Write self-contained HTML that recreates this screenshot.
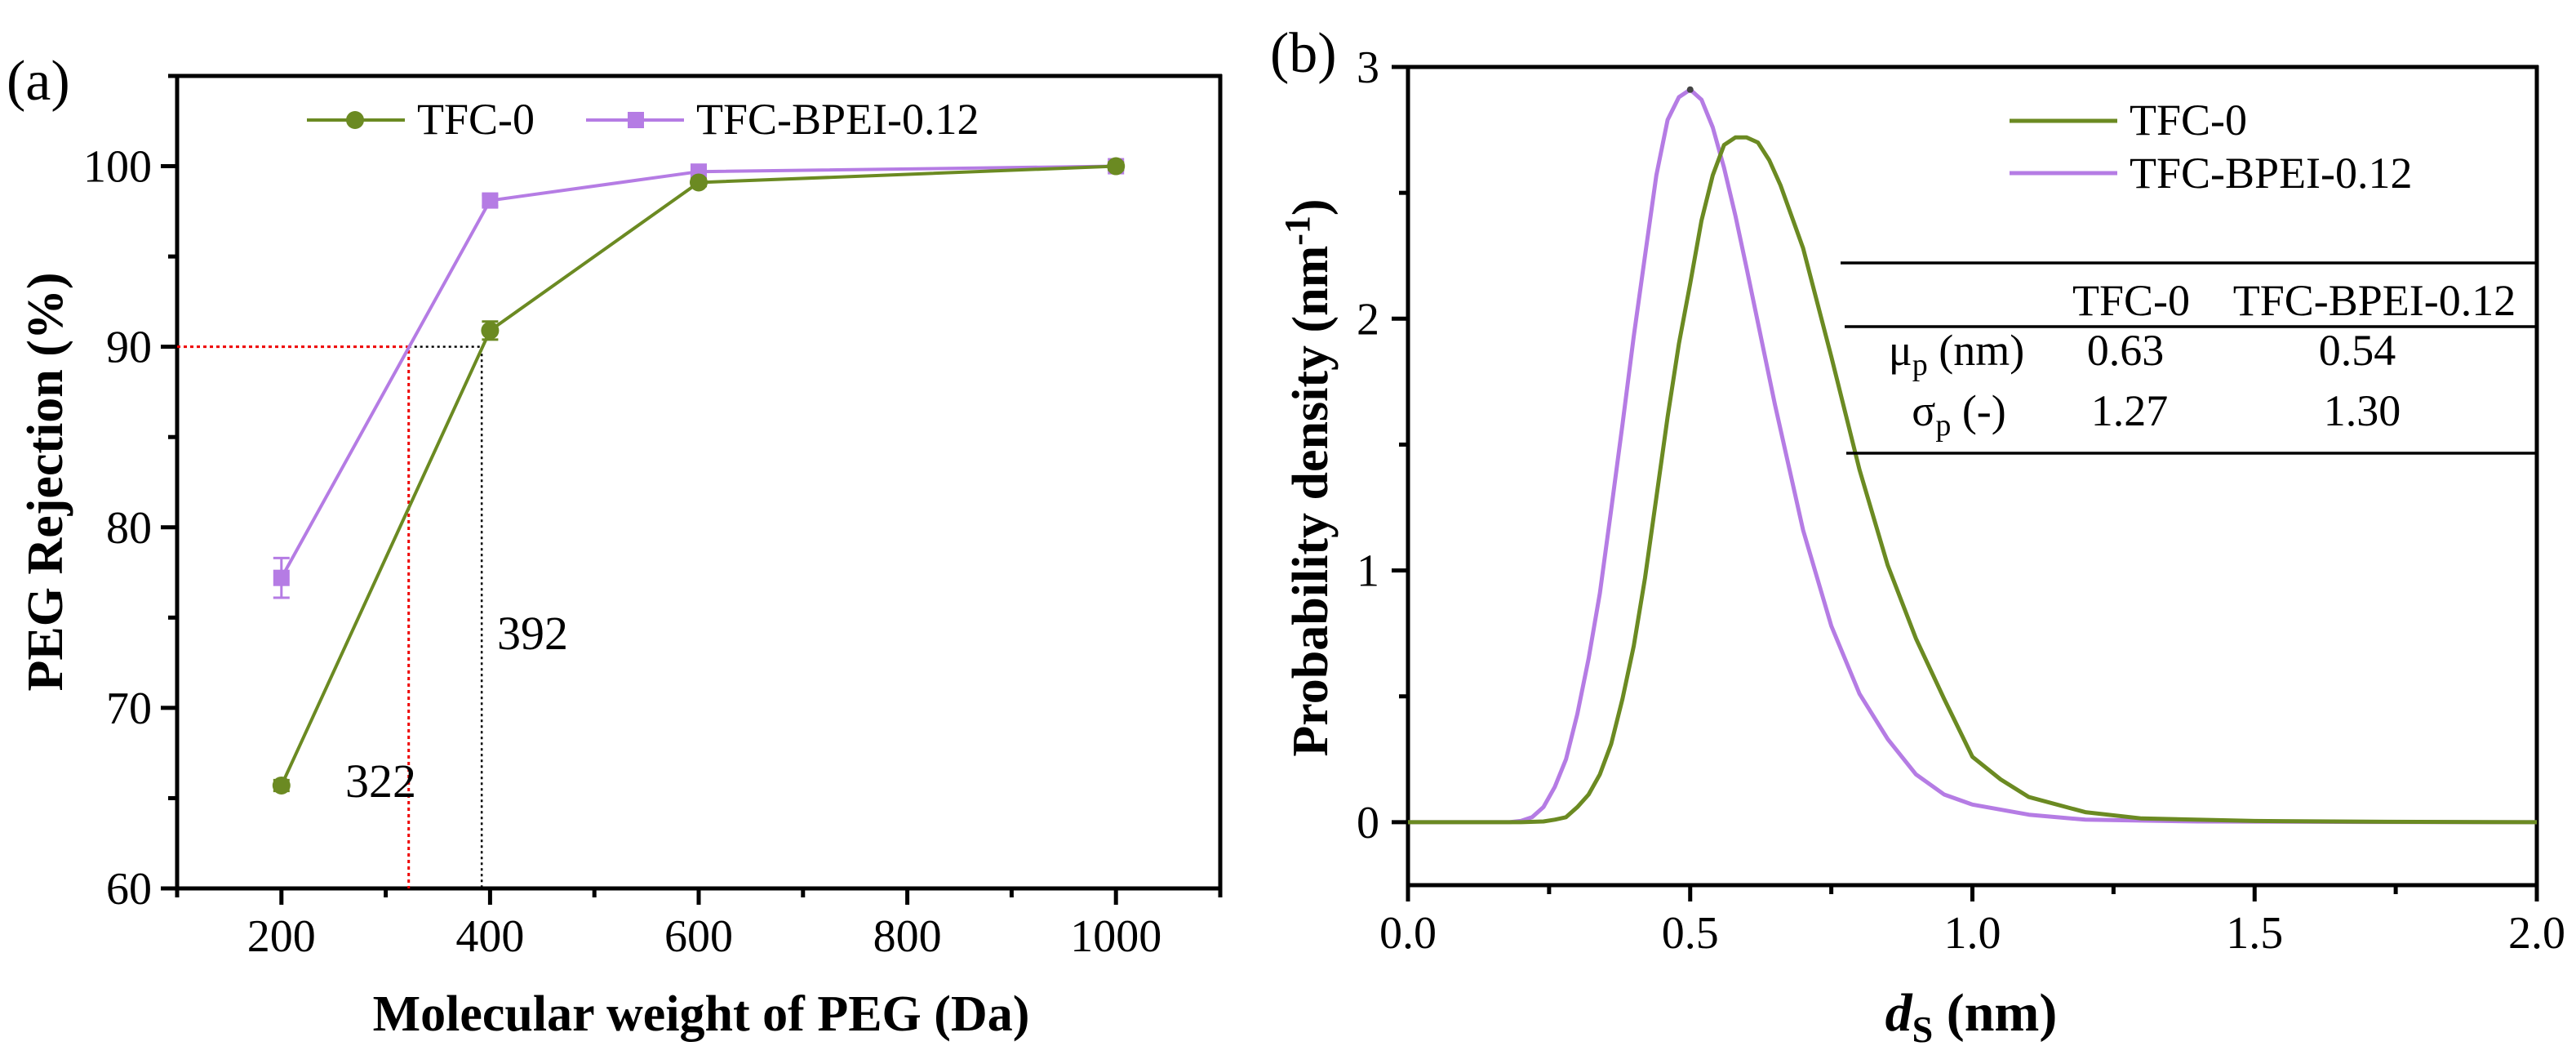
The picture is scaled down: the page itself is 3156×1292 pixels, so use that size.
<!DOCTYPE html>
<html><head><meta charset="utf-8">
<style>
html,body{margin:0;padding:0;background:#fff;}
svg{display:block;}
svg text{font-family:"Liberation Serif","Times New Roman",Times,serif;}
</style></head>
<body>
<svg id="fig" width="3156" height="1292" viewBox="0 0 3156 1292" xmlns="http://www.w3.org/2000/svg">
<g stroke="#000" stroke-width="5" fill="none">
<line x1="215" y1="93" x2="1497" y2="93"/>
<line x1="1495" y1="91" x2="1495" y2="1090"/>
<line x1="215" y1="1088" x2="1497" y2="1088"/>
<line x1="217" y1="91" x2="217" y2="1090"/>
</g>
<g stroke="#000" stroke-width="5" fill="none">
<line x1="1723" y1="82" x2="3110" y2="82"/>
<line x1="3108" y1="80" x2="3108" y2="1086"/>
<line x1="1723" y1="1084" x2="3110" y2="1084"/>
<line x1="1725" y1="80" x2="1725" y2="1086"/>
</g>
</svg>
<script>
// ---------- Panel (a) data ----------
const aCategories = [200, 400, 600, 1000];
const aTfc0 = [65.7, 90.9, 99.1, 100.0];
const aTfc0Err = [0.3, 0.5, 0.2, 0.2];
const aBpei = [77.2, 98.1, 99.7, 100.0];
const aBpeiErr = [1.1, 0.3, 0.2, 0.2];
const aXTicks = [200, 400, 600, 800, 1000];
const aYTicks = [60, 70, 80, 90, 100];
const aCutoffs = [322, 392];
// ---------- Panel (b) data ----------
const bTfc0X = [0,0.1,0.2,0.24,0.26,0.28,0.30,0.32,0.34,0.36,0.38,0.40,0.42,0.44,0.46,0.48,0.50,0.52,0.54,0.56,0.58,0.60,0.62,0.64,0.66,0.70,0.75,0.80,0.85,0.90,0.95,1.00,1.05,1.10,1.20,1.30,1.50,1.70,2.00];
const bTfc0Y = [0,0,0,0.003,0.01,0.02,0.06,0.11,0.19,0.31,0.49,0.70,0.97,1.29,1.61,1.90,2.14,2.39,2.57,2.69,2.72,2.72,2.70,2.63,2.53,2.28,1.85,1.40,1.02,0.73,0.49,0.26,0.17,0.10,0.04,0.015,0.005,0.002,0];
const bBpeiX = [0,0.1,0.18,0.20,0.22,0.24,0.26,0.28,0.30,0.32,0.34,0.36,0.38,0.40,0.42,0.44,0.46,0.48,0.50,0.52,0.54,0.56,0.58,0.60,0.65,0.70,0.75,0.80,0.85,0.90,0.95,1.00,1.10,1.20,1.40,1.70,2.00];
const bBpeiY = [0,0,0,0.005,0.02,0.06,0.14,0.25,0.43,0.65,0.91,1.24,1.58,1.93,2.25,2.57,2.79,2.88,2.91,2.87,2.76,2.60,2.41,2.20,1.66,1.16,0.78,0.51,0.33,0.19,0.11,0.07,0.03,0.01,0.003,0.001,0];
const bXTicks = [0.0, 0.5, 1.0, 1.5, 2.0];
const bYTicks = [0, 1, 2, 3];

const NS = "http://www.w3.org/2000/svg";
const svg = document.getElementById('fig');
const GREEN = "#6b8a22", PURPLE = "#b57ce4";
function el(tag, attrs, parent) {
  const e = document.createElementNS(NS, tag);
  for (const k in attrs) e.setAttribute(k, attrs[k]);
  (parent || svg).appendChild(e);
  return e;
}
function txt(str, x, y, size, anchor, weight, parent) {
  const t = el('text', {x: x, y: y, 'font-size': size, 'text-anchor': anchor || 'start', 'font-weight': weight || 'normal', fill: '#000'}, parent);
  t.textContent = str;
  return t;
}

// ================= Panel A =================
const A = {l:217, r:1495, t:93, b:1088, x0:100, x1:1100, y0:60, y1:105};
const ax = v => A.l + (v - A.x0) / (A.x1 - A.x0) * (A.r - A.l);
const ay = v => A.b - (v - A.y0) / (A.y1 - A.y0) * (A.b - A.t);
const gA = el('g', {});



for (let v = A.x0; v <= A.x1; v += 100) {
  const major = (v % 200 === 0);
  const tk = el('line', {x1:ax(v), x2:ax(v), y1:A.b, y2:A.b + (major ? 20 : 11), stroke:'#000', 'stroke-width':5}, gA);
  
  
}
aXTicks.forEach(v => {
  const t = txt(String(v), ax(v), 1165, 56, 'middle', 'normal', gA);
  
  
});
for (let v = A.y0; v <= A.y1; v += 5) {
  const major = (v % 10 === 0);
  const tk = el('line', {x1:A.l, x2:A.l - (major ? 20 : 11), y1:ay(v), y2:ay(v), stroke:'#000', 'stroke-width':5}, gA);
  
  
}
aYTicks.forEach(v => {
  const t = txt(String(v), 186, ay(v) + 19, 56, 'end', 'normal', gA);
  
  
});
const xtA = txt('Molecular weight of PEG (Da)', 859, 1262, 62, 'middle', 'bold', gA);


const ytA = txt('PEG Rejection (%)', 0, 0, 62, 'middle', 'bold', gA);
ytA.setAttribute('transform', 'translate(76,590) rotate(-90)');


const labA = txt('(a)', 8, 122, 70, 'start', 'normal', gA);



const red = el('path', {d:`M${A.l},${ay(90)} H${ax(aCutoffs[0])} V${A.b}`, fill:'none', stroke:'#e00', 'stroke-width':3, 'stroke-dasharray':'4,4'}, gA);


const blk = el('path', {d:`M${ax(aCutoffs[0])},${ay(90)} H${ax(aCutoffs[1])} V${A.b}`, fill:'none', stroke:'#000', 'stroke-width':2.5, 'stroke-dasharray':'3,4'}, gA);


const c1 = txt(String(aCutoffs[0]), 423, 976, 58, 'start', 'normal', gA);


const c2 = txt(String(aCutoffs[1]), 609, 795, 58, 'start', 'normal', gA);



function seriesA(vals, errs, color, marker, name) {
  const g = el('g', {}, gA);
  
  
  const pts = aCategories.map((c, i) => `${ax(c)},${ay(vals[i])}`).join(' ');
  const ln = el('polyline', {points: pts, fill:'none', stroke:color, 'stroke-width':4}, g);
  
  
  aCategories.forEach((c, i) => {
    const x = ax(c), yT = ay(vals[i] + errs[i]), yB = ay(vals[i] - errs[i]);
    const eb = el('path', {d:`M${x},${yT} V${yB} M${x-10},${yT} H${x+10} M${x-10},${yB} H${x+10}`, stroke:color, 'stroke-width':3, fill:'none'}, g);
    
    
    let m;
    if (marker === 'circle') m = el('circle', {cx:x, cy:ay(vals[i]), r:11, fill:color}, g);
    else m = el('rect', {x:x-10, y:ay(vals[i])-10, width:20, height:20, fill:color}, g);
    
    
  });
}
seriesA(aBpei, aBpeiErr, PURPLE, 'square', 'series-tfc-bpei-a');
seriesA(aTfc0, aTfc0Err, GREEN, 'circle', 'series-tfc0-a');

const lgA = el('g', {}, gA);


const le1 = el('g', {}, lgA);


el('line', {x1:376, x2:496, y1:147, y2:147, stroke:GREEN, 'stroke-width':4}, le1);
el('circle', {cx:435, cy:147, r:11, fill:GREEN}, le1);
txt('TFC-0', 511, 164, 54, 'start', 'normal', le1);
const le2 = el('g', {}, lgA);


el('line', {x1:718, x2:838, y1:147, y2:147, stroke:PURPLE, 'stroke-width':4}, le2);
el('rect', {x:769, y:137, width:20, height:20, fill:PURPLE}, le2);
txt('TFC-BPEI-0.12', 853, 164, 54, 'start', 'normal', le2);

// ================= Panel B =================
const B = {l:1725, r:3108, t:82, b:1084, x0:0, x1:2, y0:-0.25, y1:3};
const bx = v => B.l + (v - B.x0) / (B.x1 - B.x0) * (B.r - B.l);
const by = v => B.b - (v - B.y0) / (B.y1 - B.y0) * (B.b - B.t);
const gB = el('g', {});



for (let i = 0; i <= 8; i++) {
  const v = i * 0.25, major = (i % 2 === 0);
  const tk = el('line', {x1:bx(v), x2:bx(v), y1:B.b, y2:B.b + (major ? 20 : 11), stroke:'#000', 'stroke-width':5}, gB);
  
  
}
bXTicks.forEach(v => {
  const t = txt(v.toFixed(1), bx(v), 1161, 56, 'middle', 'normal', gB);
  
  
});
for (let i = 0; i <= 6; i++) {
  const v = i * 0.5, major = (i % 2 === 0);
  const tk = el('line', {x1:B.l, x2:B.l - (major ? 20 : 11), y1:by(v), y2:by(v), stroke:'#000', 'stroke-width':5}, gB);
  
  
}
bYTicks.forEach(v => {
  const t = txt(String(v), 1690, by(v) + 19, 56, 'end', 'normal', gB);
  
  
});
const labB = txt('(b)', 1556, 88, 70, 'start', 'normal', gB);



const xtB = el('text', {x:2415, y:1262, 'font-size':66, 'text-anchor':'middle', 'font-weight':'bold'}, gB);


xtB.innerHTML = '<tspan font-style="italic">d</tspan><tspan font-size="46" dy="14">S</tspan><tspan dy="-14"> (nm)</tspan>';
const ytB = el('text', {'font-size':62, 'text-anchor':'middle', 'font-weight':'bold', transform:'translate(1626,585) rotate(-90)'}, gB);


ytB.innerHTML = 'Probability density (nm<tspan font-size="44" dy="-22">-1</tspan><tspan dy="22">)</tspan>';

function curve(xs, ys, color, name) {
  const d = xs.map((x, i) => (i ? 'L' : 'M') + bx(x).toFixed(1) + ',' + by(ys[i]).toFixed(1)).join(' ');
  const p = el('path', {d: d, fill:'none', stroke:color, 'stroke-width':5, 'stroke-linejoin':'round'}, gB);
  
  
}
curve(bBpeiX, bBpeiY, PURPLE, 'curve-tfc-bpei');
curve(bTfc0X, bTfc0Y, GREEN, 'curve-tfc0');
const pk = bBpeiY.indexOf(Math.max(...bBpeiY));
const dot = el('circle', {cx:bx(bBpeiX[pk]), cy:by(bBpeiY[pk]), r:4, fill:'#444'}, gB);



const lgB = el('g', {}, gB);


const lb1 = el('g', {}, lgB);


el('line', {x1:2462, x2:2594, y1:148, y2:148, stroke:GREEN, 'stroke-width':5}, lb1);
txt('TFC-0', 2609, 165, 54, 'start', 'normal', lb1);
const lb2 = el('g', {}, lgB);


el('line', {x1:2462, x2:2594, y1:212, y2:212, stroke:PURPLE, 'stroke-width':5}, lb2);
txt('TFC-BPEI-0.12', 2609, 230, 54, 'start', 'normal', lb2);

const tb = el('g', {}, gB);


[[2255,322],[2260,400],[2262,555]].forEach(r => {
  const l = el('line', {x1:r[0], x2:B.r, y1:r[1], y2:r[1], stroke:'#000', 'stroke-width':3.5}, tb);
  
  
});
const h1 = txt('TFC-0', 2611, 386, 54, 'middle', 'normal', tb);


const h2 = txt('TFC-BPEI-0.12', 2909, 386, 54, 'middle', 'normal', tb);


const r1 = el('text', {x:2397, y:447, 'font-size':54, 'text-anchor':'middle'}, tb);


r1.innerHTML = 'μ<tspan font-size="38" dy="12">p</tspan><tspan dy="-12"> (nm)</tspan>';
const r2 = el('text', {x:2400, y:521, 'font-size':54, 'text-anchor':'middle'}, tb);


r2.innerHTML = 'σ<tspan font-size="38" dy="12">p</tspan><tspan dy="-12"> (-)</tspan>';
[['0.63',2604,447],['0.54',2888,447],['1.27',2609,521],['1.30',2894,521]].forEach(c => {
  const t = txt(c[0], c[1], c[2], 54, 'middle', 'normal', tb);
  
  
});
</script>
</body></html>
